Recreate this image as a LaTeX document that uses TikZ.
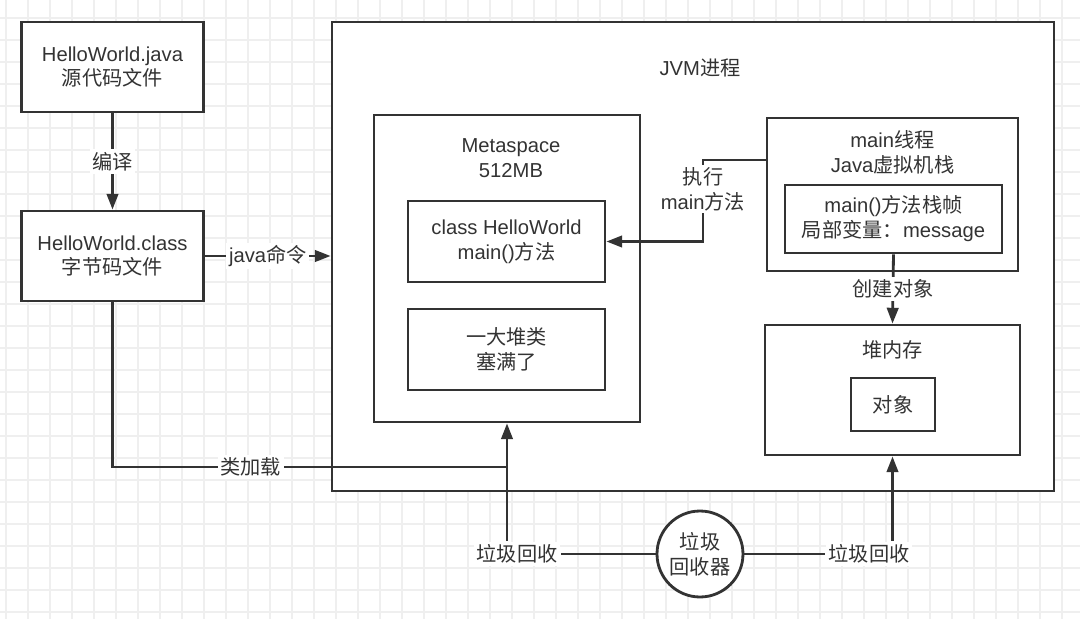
\documentclass[tikz,border=0pt]{standalone}
\usepackage{fontspec}
\setmainfont{Liberation Sans}
\newfontfamily\cjk{Noto Sans CJK SC}
\newcommand{\zh}[1]{{\cjk #1}}
\usetikzlibrary{arrows.meta, calc}
\definecolor{ink}{HTML}{333333}
\definecolor{gridc}{HTML}{EFEFEF}

\begin{document}
\begin{tikzpicture}[x=0.02cm, y=-0.02cm, line width=1.6pt, color=ink,
		font=\fontsize{11.5}{14.2}\selectfont,
		box/.style={draw, fill=white, rectangle, inner sep=0pt, align=center},
		lbl/.style={fill=white, inner sep=1.5pt, align=center},
		arr/.style={-{Triangle[length=9pt,width=6.5pt]}},
		gridline/.style={line width=0.6pt, draw=gridc}]
		\useasboundingbox (0,0) rectangle (1080,619);
		\fill[white] (0,0) rectangle (1080,619);
		\foreach \gx in {6,28,...,1080} \draw[gridline] (\gx,0) -- (\gx,619);
		\foreach \gy in {18,40,...,619} \draw[gridline] (0,\gy) -- (1080,\gy);
		
		\node[box, minimum width=3.64cm, minimum height=1.8cm] (src) at (112.5,67) {HelloWorld.java\\\zh{源代码文件}};
		\node[box, minimum width=3.64cm, minimum height=1.8cm] (cls) at (112.5,256) {HelloWorld.class\\\zh{字节码文件}};
		
		\node[box, minimum width=14.44cm, minimum height=9.38cm] (jvm) at (693,256.5) {};
		\node (jvmlbl) at (700,68) {JVM\zh{进程}};
		
		\node[box, minimum width=5.32cm, minimum height=6.14cm] (meta) at (507,268.5) {};
		\node[align=center] (metalbl) at (511,158) {Metaspace\\512MB};
		\node[box, minimum width=3.94cm, minimum height=1.62cm] (hw) at (506.5,241.5) {class HelloWorld\\main()\zh{方法}};
		\node[box, minimum width=3.94cm, minimum height=1.62cm] (pile) at (506.5,349.5) {\zh{一大堆类}\\\zh{塞满了}};
		
		\node[box, minimum width=5.02cm, minimum height=3.06cm] (thread) at (892.5,194.5) {};
		\node[align=center] (threadlbl) at (892.5,152) {main\zh{线程}\\Java\zh{虚拟机栈}};
		\node[box, minimum width=4.34cm, minimum height=1.36cm] (frame) at (893.5,219) {main()\zh{方法栈帧}\\\zh{局部变量：}message};
		
		\node[box, minimum width=5.1cm, minimum height=2.6cm] (heap) at (892.5,390) {};
		\node (heaplbl) at (892.5,350) {\zh{堆内存}};
		\node[box, minimum width=1.68cm, minimum height=1.06cm] (obj) at (893,404.5) {\zh{对象}};
		
		\node[draw, circle, fill=white, minimum size=1.72cm, inner sep=0pt, align=center] (gc) at (700,554) {\zh{垃圾}\\\zh{回收器}};
		\node[lbl] (gcL) at (517,554) {\zh{垃圾回收}};
		\node[lbl] (gcR) at (869,554) {\zh{垃圾回收}};
		
		\coordinate (load) at (507,467);
		\coordinate (runB) at (703,241.5);
		
		\draw[arr] (src.south) -- node[lbl] {\zh{编译}} (src.south |- cls.north);
		\draw[arr] (cls.east) -- node[lbl] {java\zh{命令}} (cls.east -| jvm.west);
		\draw (cls.south) |- node[lbl, pos=0.675] {\zh{类加载}} (load);
		\draw[arr] ($(thread.west)+(0,-34.5)$) -| (runB) -- (hw.east);
		\node[lbl] (exec) at (703,189) {\zh{执行}\\main\zh{方法}};
		\draw[arr] (frame.south) -- node[lbl] {\zh{创建对象}} (heap.north);
		\draw[arr] (gcL.north -| meta.south) -- (meta.south);
		\draw[arr] (gcR.north -| heap.south) -- (heap.south);
		\draw (gc.west) -- (gc.west -| gcL.east);
		\draw (gc.east) -- (gc.east -| gcR.west);
		
\end{tikzpicture}
\end{document}
